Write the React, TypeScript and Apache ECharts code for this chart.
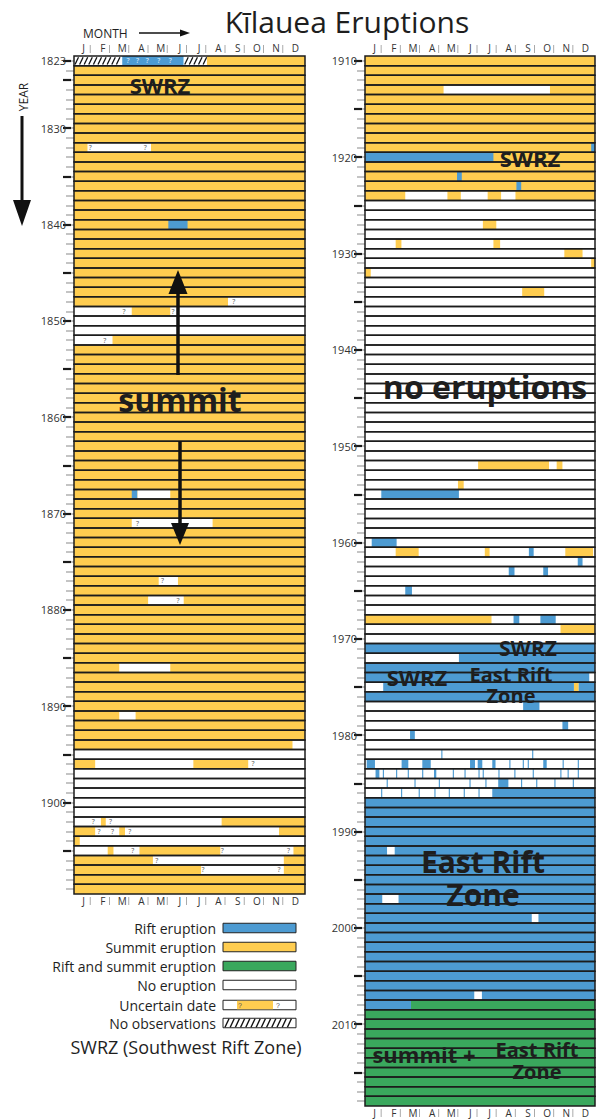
import React, { useEffect, useRef } from 'react';
import * as echarts from 'echarts';

const FONT = '"Open Sans", "Noto Sans", sans-serif';
const C_SUMMIT = '#ffcd50';
const C_RIFT = '#4d9bd2';
const C_BOTH = '#3aa85d';
const C_NONE = '#ffffff';

const MONTHS = ['J', 'F', 'M', 'A', 'M', 'J', 'J', 'A', 'S', 'O', 'N', 'D'];
const MONTH_KEYS = ['1', '2', '3', '4', '5', '6', '7', '8', '9', '10', '11', '12'];
const LEFT_FIRST = 1823;
const LEFT_LAST = 1909;
const RIGHT_FIRST = 1910;
const RIGHT_LAST = 2018;

// [fromYear, toYear, startMonth, endMonth] (months measured 0..12 from 1 Jan)
const summitSpans: number[][] = [
  [1823, 1823, 6.9, 12], [1824, 1848, 0, 12], [1849, 1849, 3.0, 5.0], [1852, 1894, 0, 12],
  [1896, 1896, 0, 1.1], [1896, 1896, 6.2, 9.05],
  [1902, 1902, 1.4, 1.65], [1902, 1902, 7.67, 12],
  [1903, 1903, 0, 1.1], [1903, 1903, 2.35, 2.65], [1903, 1903, 10.65, 12],
  [1904, 1904, 0, 0.3],
  [1905, 1905, 1.75, 2.05], [1905, 1905, 3.4, 7.6], [1905, 1905, 11.4, 12],
  [1906, 1906, 0, 4.1], [1906, 1906, 10.9, 12],
  [1907, 1907, 0, 6.6], [1907, 1907, 10.9, 12],
  [1908, 1909, 0, 12],
  [1910, 1924, 0, 12],
  [1927, 1927, 6.15, 6.85], [1929, 1929, 1.6, 1.9], [1929, 1929, 6.7, 7.05],
  [1930, 1930, 10.4, 11.35], [1931, 1931, 11.8, 12], [1932, 1932, 0, 0.3],
  [1934, 1934, 8.2, 9.35],
  [1952, 1952, 5.9, 9.6], [1952, 1952, 10.0, 10.3], [1954, 1954, 4.85, 5.15],
  [1961, 1961, 1.6, 2.8], [1961, 1961, 6.25, 6.5], [1961, 1961, 10.45, 11.9],
  [1968, 1968, 0, 6.6], [1969, 1969, 10.2, 12], [1975, 1975, 10.9, 11.15],
];

const riftSpans: number[][] = [
  [1823, 1823, 2.5, 5.7], [1840, 1840, 4.9, 5.9], [1868, 1868, 3.0, 3.3],
  [1919, 1919, 11.8, 12], [1920, 1920, 0, 6.7], [1922, 1922, 4.8, 5.05], [1923, 1923, 7.9, 8.15],
  [1955, 1955, 0.85, 4.9], [1960, 1960, 0.35, 1.65], [1961, 1961, 8.55, 8.8],
  [1962, 1962, 11.1, 11.35], [1963, 1963, 7.5, 7.8], [1963, 1963, 9.3, 9.55],
  [1965, 1965, 2.1, 2.45], [1968, 1968, 7.75, 8.05], [1968, 1968, 9.15, 9.95],
  [1971, 1971, 0, 12], [1972, 1972, 4.9, 12], [1973, 1973, 0, 12], [1974, 1974, 0, 11.7],
  [1975, 1975, 0.95, 10.9], [1975, 1975, 11.15, 12], [1976, 1976, 0, 12],
  [1977, 1977, 8.25, 9.1], [1979, 1979, 10.3, 10.6], [1980, 1980, 2.35, 2.6],
  [1982, 1982, 3.98, 4.04], [1982, 1982, 8.72, 8.78],
  [1983, 1983, 0.09, 0.52], [1983, 1983, 1.91, 2.26], [1983, 1983, 2.99, 3.43],
  [1983, 1983, 5.48, 5.74], [1983, 1983, 5.88, 6.12], [1983, 1983, 6.64, 6.81],
  [1983, 1983, 7.53, 7.59], [1983, 1983, 8.23, 8.29], [1983, 1983, 8.49, 8.55],
  [1983, 1983, 9.3, 9.48], [1983, 1983, 10.31, 10.37], [1983, 1983, 11.1, 11.16],
  [1984, 1984, 0.55, 0.75], [1984, 1984, 0.93, 0.99], [1984, 1984, 1.62, 1.68],
  [1984, 1984, 2.23, 2.29], [1984, 1984, 2.98, 3.04], [1984, 1984, 3.6, 3.72],
  [1984, 1984, 4.58, 4.64], [1984, 1984, 5.19, 5.25], [1984, 1984, 5.92, 5.98],
  [1984, 1984, 6.14, 6.2], [1984, 1984, 6.96, 7.02], [1984, 1984, 7.79, 7.85],
  [1984, 1984, 8.75, 8.81], [1984, 1984, 10.19, 10.25], [1984, 1984, 10.57, 10.63],
  [1984, 1984, 11.1, 11.16],
  [1985, 1985, 1.13, 1.19], [1985, 1985, 2.58, 2.64], [1985, 1985, 3.85, 3.91],
  [1985, 1985, 5.45, 5.51], [1985, 1985, 6.28, 6.34], [1985, 1985, 6.95, 7.48],
  [1985, 1985, 8.14, 8.2], [1985, 1985, 8.93, 8.99], [1985, 1985, 9.88, 9.94],
  [1985, 1985, 10.84, 10.9],
  [1986, 1986, 0.84, 0.9], [1986, 1986, 1.88, 1.94], [1986, 1986, 2.8, 2.86],
  [1986, 1986, 3.62, 3.68], [1986, 1986, 4.37, 4.43], [1986, 1986, 5.15, 5.21],
  [1986, 1986, 5.92, 5.98], [1986, 1986, 6.64, 12],
  [1987, 2007, 0, 12], [2008, 2008, 0, 2.4],
];

const bothSpans: number[][] = [[2008, 2008, 2.4, 12], [2009, 2018, 0, 12]];

// no-eruption gaps inside otherwise coloured rows
const gapSpans: number[][] = [
  [1832, 1832, 0.7, 4.0], [1848, 1848, 8.0, 12], [1852, 1852, 0, 2.0], [1868, 1868, 3.3, 5.0],
  [1871, 1871, 3.0, 7.2], [1877, 1877, 4.4, 5.4], [1879, 1879, 3.85, 5.7], [1886, 1886, 2.35, 5.0],
  [1891, 1891, 2.35, 3.2], [1894, 1894, 11.35, 12],
  [1913, 1913, 4.1, 9.65], [1924, 1924, 2.1, 4.3], [1924, 1924, 5.0, 6.4], [1924, 1924, 7.1, 7.85],
  [1992, 1992, 1.15, 1.55], [1997, 1997, 0.9, 1.75], [1999, 1999, 8.7, 9.05], [2007, 2007, 5.7, 6.1],
];

const noObsSpans: number[][] = [[1823, 1823, 0, 2.5], [1823, 1823, 5.7, 6.9]];

// [year, month, onColour(1)]
const uncertainMarks: number[][] = [
  [1823, 2.8, 1], [1823, 3.3, 1], [1823, 3.8, 1], [1823, 4.4, 1], [1823, 5.0, 1],
  [1832, 0.85, 0], [1832, 3.7, 0], [1848, 8.3, 0], [1849, 2.6, 0], [1849, 5.15, 0],
  [1852, 1.6, 0], [1871, 3.3, 0], [1877, 4.6, 0], [1879, 5.4, 0], [1896, 9.3, 0],
  [1902, 1.0, 0], [1902, 1.9, 0], [1903, 1.3, 0], [1903, 2.0, 0], [1903, 2.9, 0],
  [1905, 3.05, 0], [1905, 7.7, 0], [1905, 11.15, 0], [1906, 4.3, 0], [1907, 6.7, 0], [1907, 10.65, 0],
];

const KIND_COLORS = [C_SUMMIT, C_RIFT, C_BOTH, C_NONE];

function yearsOf(a: number, b: number) {
  const out: string[] = [];
  for (let y = a; y <= b; y++) out.push(String(y));
  return out;
}
const leftYears = yearsOf(LEFT_FIRST, LEFT_LAST);
const rightYears = yearsOf(RIGHT_FIRST, RIGHT_LAST);

function buildSpanData(panelLeft: boolean) {
  const out: number[][] = [];
  const groups: [number[][], number][] = [[summitSpans, 0], [riftSpans, 1], [bothSpans, 2], [gapSpans, 3], [noObsSpans, 4]];
  for (const [arr, kind] of groups) {
    for (const [y0, y1, s, e] of arr) {
      for (let y = y0; y <= y1; y++) {
        const isLeft = y <= LEFT_LAST;
        if (isLeft !== panelLeft) continue;
        const idx = y - (panelLeft ? LEFT_FIRST : RIGHT_FIRST);
        out.push([s, e, idx, kind]);
      }
    }
  }
  return out;
}

function buildRowData(n: number) {
  const out: number[][] = [];
  for (let i = 0; i < n; i++) out.push([0, 12, i, -1]);
  return out;
}

function buildMarks(panelLeft: boolean) {
  return uncertainMarks
    .filter(([y]) => (y <= LEFT_LAST) === panelLeft)
    .map(([y, m, c]) => [m, y - (panelLeft ? LEFT_FIRST : RIGHT_FIRST), c]);
}

function renderSpan(params: any, api: any) {
  const s = api.value(0), e = api.value(1), r = api.value(2), k = api.value(3);
  const a = api.coord([s, r]);
  const b = api.coord([e, r]);
  const h = api.size([0, 1])[1];
  const x = a[0];
  const y = a[1] - h / 2;
  const w = Math.max(b[0] - a[0], 1);
  if (k === -1) {
    return { type: 'rect', shape: { x, y, width: w, height: h }, style: { fill: 'none', stroke: '#1c1c1c', lineWidth: 1.5 } };
  }
  if (k === 4) {
    const children: any[] = [{ type: 'rect', shape: { x, y, width: w, height: h }, style: { fill: '#fff' } }];
    for (let px = x + 1; px + 3.5 <= x + w; px += 4.6) {
      children.push({ type: 'line', shape: { x1: px, y1: y + h - 1.2, x2: px + 3.5, y2: y + 1.2 }, style: { stroke: '#111', lineWidth: 1.3 } });
    }
    return { type: 'group', children };
  }
  return { type: 'rect', shape: { x, y, width: w, height: h }, style: { fill: KIND_COLORS[k] } };
}

function renderMark(params: any, api: any) {
  const p = api.coord([api.value(0), api.value(1)]);
  const c = api.value(2);
  return { type: 'text', x: p[0], y: p[1], style: { text: '?', fontSize: 7, fontFamily: FONT, fill: c ? '#eaf3fb' : '#555', align: 'center', verticalAlign: 'middle' } };
}

function renderSep(params: any, api: any) {
  const m = api.value(0);
  const last = api.value(2);
  const h = api.size([0, 1])[1];
  const top = api.coord([m, 0]);
  const bot = api.coord([m, last]);
  const t = top[1] - h / 2;
  const b = bot[1] + h / 2;
  const xx = top[0] - 3;
  return {
    type: 'group',
    children: [
      { type: 'line', shape: { x1: xx, y1: t - 11, x2: xx, y2: t - 3 }, style: { stroke: '#aaa', lineWidth: 1 } },
      { type: 'line', shape: { x1: xx, y1: b + 3, x2: xx, y2: b + 11 }, style: { stroke: '#aaa', lineWidth: 1 } },
    ],
  };
}

function sepData(n: number) {
  const out: number[][] = [];
  for (let m = 1; m < 12; m++) out.push([m, 0, n - 1]);
  return out;
}

function monthAxes(gridIndex: number) {
  const common = {
    gridIndex,
    type: 'category',
    data: MONTH_KEYS,
    axisLine: { show: false },
    axisTick: { show: false },
    axisLabel: { margin: 3, fontSize: 10, color: '#333', fontFamily: FONT, formatter: (_v: string, i: number) => MONTHS[i] },
  };
  return [
    { gridIndex, type: 'value', min: 0, max: 12, show: false },
    { ...common, position: 'top' },
    { ...common, position: 'bottom', axisLabel: { ...common.axisLabel, margin: 2 } },
  ];
}

function yearAxes(gridIndex: number, years: string[], first: boolean) {
  const base = { gridIndex, type: 'category', data: years, inverse: true, position: 'left', offset: 3, axisLine: { show: false }, splitLine: { show: false } };
  return [
    {
      ...base,
      axisTick: { show: true, alignWithLabel: true, length: 8, interval: 0, lineStyle: { color: '#b0b0b0', width: 1.5 } },
      axisLabel: {
        show: true, margin: 5, fontSize: 11, color: '#333', fontFamily: FONT,
        interval: (_i: number, v: string) => Number(v) % 10 === 0 || (first && Number(v) === LEFT_FIRST),
      },
    },
    {
      ...base,
      axisTick: {
        show: true, alignWithLabel: true, length: 8,
        interval: (_i: number, v: string) => Number(v) % 5 === 0 || (first && Number(v) === LEFT_FIRST),
        lineStyle: { color: '#1a1a1a', width: 2.2 },
      },
      axisLabel: { show: false },
    },
  ];
}

function panelSeries(panelLeft: boolean) {
  const xi = panelLeft ? 0 : 3;
  const yi = panelLeft ? 0 : 2;
  const n = panelLeft ? leftYears.length : rightYears.length;
  return [
    { type: 'custom', name: 'rows-bg', xAxisIndex: xi, yAxisIndex: yi, encode: { x: [0, 1], y: 2 }, renderItem: (p: any, api: any) => {
      const a = api.coord([0, api.value(2)]);
      const b = api.coord([12, api.value(2)]);
      const h = api.size([0, 1])[1];
      return { type: 'rect', shape: { x: a[0], y: a[1] - h / 2, width: b[0] - a[0], height: h }, style: { fill: '#fff' } };
    }, data: buildRowData(n), silent: true },
    { type: 'custom', name: 'spans', xAxisIndex: xi, yAxisIndex: yi, encode: { x: [0, 1], y: 2 }, renderItem: renderSpan, data: buildSpanData(panelLeft), silent: true },
    { type: 'custom', name: 'rows', xAxisIndex: xi, yAxisIndex: yi, encode: { x: [0, 1], y: 2 }, renderItem: renderSpan, data: buildRowData(n), silent: true },
    { type: 'custom', name: 'uncertain', xAxisIndex: xi, yAxisIndex: yi, encode: { x: 0, y: 1 }, renderItem: renderMark, data: buildMarks(panelLeft), silent: true },
    { type: 'custom', name: 'sep', xAxisIndex: xi, yAxisIndex: yi, encode: { x: 0, y: 1 }, renderItem: renderSep, data: sepData(n), silent: true },
  ];
}

function txt(text: string, x: number, y: number, size: number, weight: any = 'normal', align = 'center', extra: any = {}, lineHeight?: number) {
  const style: any = { text, fontSize: size, fontWeight: weight, fontFamily: FONT, fill: '#1e1e1e', align, verticalAlign: 'middle' };
  if (lineHeight) style.lineHeight = lineHeight;
  return { type: 'text', x, y, z: 100, silent: true, ...extra, style };
}

function buildGraphic() {
  const g: any[] = [];
  g.push(txt('Kīlauea Eruptions', 347, 21, 30, 'normal'));
  g.push(txt('MONTH', 83, 33, 12, 'normal', 'left'));
  g.push({ type: 'line', z: 100, shape: { x1: 139, y1: 33, x2: 182, y2: 33 }, style: { stroke: '#111', lineWidth: 1.5 } });
  g.push({ type: 'polygon', z: 100, shape: { points: [[180, 29.5], [190, 33], [180, 36.5]] }, style: { fill: '#111' } });
  g.push(txt('YEAR', 23, 97, 12, 'normal', 'center', { rotation: Math.PI / 2 }));
  g.push({ type: 'line', z: 100, shape: { x1: 22, y1: 116, x2: 22, y2: 202 }, style: { stroke: '#111', lineWidth: 3 } });
  g.push({ type: 'polygon', z: 100, shape: { points: [[13, 200], [31, 200], [22, 226]] }, style: { fill: '#111' } });

  // summit arrows
  g.push({ type: 'line', z: 100, shape: { x1: 178, y1: 375, x2: 178, y2: 292 }, style: { stroke: '#111', lineWidth: 3.5 } });
  g.push({ type: 'polygon', z: 100, shape: { points: [[168.5, 294], [187.5, 294], [178, 270]] }, style: { fill: '#111' } });
  g.push({ type: 'line', z: 100, shape: { x1: 180, y1: 441, x2: 180, y2: 526 }, style: { stroke: '#111', lineWidth: 3.5 } });
  g.push({ type: 'polygon', z: 100, shape: { points: [[171, 523], [189, 523], [180, 545]] }, style: { fill: '#111' } });

  const ann: [string, number, number, number, number?][] = [
    ['SWRZ', 160, 85, 22], ['summit', 180, 399, 32], ['SWRZ', 530, 158, 22],
    ['no eruptions', 485, 386, 32], ['SWRZ', 528, 648, 21], ['SWRZ', 417, 677, 22],
    ['East Rift\nZone', 511, 685, 20, 21], ['East Rift\nZone', 483, 878, 30, 33],
    ['summit +', 424, 1054, 22], ['East Rift\nZone', 537, 1060, 20, 22],
  ];
  for (const [t, x, y, s, lh] of ann) g.push(txt(t, x, y, s, 'bold', 'center', {}, lh));

  // legend
  const lx = 223, lw = 73, lh = 9.5;
  const rows: [string, number, string][] = [
    ['Rift eruption', 928, 'rift'], ['Summit eruption', 947, 'summit'], ['Rift and summit eruption', 966, 'both'],
    ['No eruption', 985, 'none'], ['Uncertain date', 1005, 'unc'], ['No observations', 1023, 'hatch'],
  ];
  for (const [label, y, kind] of rows) {
    g.push(txt(label, 216, y, 14, 'normal', 'right'));
    const fill = kind === 'rift' ? C_RIFT : kind === 'summit' ? C_SUMMIT : kind === 'both' ? C_BOTH : '#fff';
    g.push({ type: 'rect', z: 100, shape: { x: lx, y: y - lh / 2, width: lw, height: lh }, style: { fill, stroke: '#222', lineWidth: 1 } });
    if (kind === 'unc') {
      g.push({ type: 'rect', z: 101, shape: { x: 237, y: y - lh / 2 + 0.5, width: 36, height: lh - 1 }, style: { fill: C_SUMMIT } });
      g.push({ type: 'text', z: 101, x: 240, y, style: { text: '?', fontSize: 7, fill: '#555', align: 'center', verticalAlign: 'middle' } });
      g.push({ type: 'text', z: 101, x: 278, y, style: { text: '?', fontSize: 7, fill: '#555', align: 'center', verticalAlign: 'middle' } });
    }
    if (kind === 'hatch') {
      for (let px = lx + 2; px + 4 <= lx + lw; px += 5.2) {
        g.push({ type: 'line', z: 101, shape: { x1: px, y1: y + lh / 2 - 0.5, x2: px + 4, y2: y - lh / 2 + 0.5 }, style: { stroke: '#111', lineWidth: 1.4 } });
      }
    }
  }
  g.push(txt('SWRZ (Southwest Rift Zone)', 186, 1047, 18, 'normal'));
  return g;
}

export default function App() {
  const ref = useRef<HTMLDivElement>(null);
  useEffect(() => {
    const chart = echarts.init(ref.current!, undefined, { renderer: 'svg' });
    const option: any = {
      animation: false,
      backgroundColor: '#fff',
      grid: [
        { left: 74, top: 56, width: 231, height: 838 },
        { left: 365, top: 56, width: 230, height: 1050 },
      ],
      xAxis: [...monthAxes(0), ...monthAxes(1)],
      yAxis: [...yearAxes(0, leftYears, true), ...yearAxes(1, rightYears, false)],
      series: [...panelSeries(true), ...panelSeries(false)],
      graphic: { elements: buildGraphic() },
    };
    chart.setOption(option);
    return () => chart.dispose();
  }, []);
  return <div ref={ref} style={{ position: 'absolute', left: 0, top: 0, width: 600, height: 1120, background: '#fff' }} />;
}
